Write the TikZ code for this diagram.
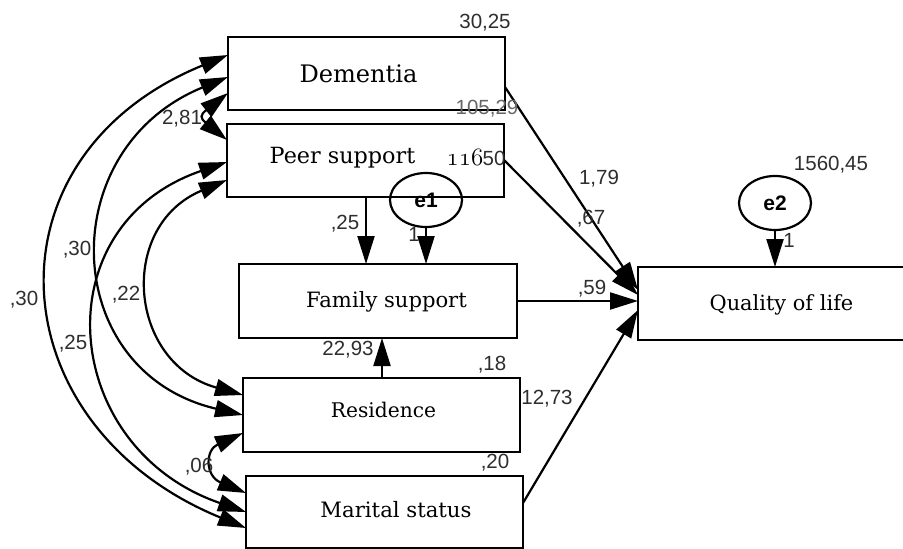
\documentclass[tikz,border=0pt]{standalone}
\usepackage{fontspec}
\newfontfamily\numfont{Liberation Sans}
\newfontfamily\boxfont{DejaVu Serif}
\usetikzlibrary{arrows.meta,shapes.geometric}
\begin{document}
\begin{tikzpicture}[x=1pt,y=-1pt,
  box/.style={draw=black, line width=2.5pt, rectangle, inner sep=0pt, outer sep=0pt},
  lbl/.style={inner sep=0pt, anchor=base, text=black},
  num/.style={inner sep=0pt, anchor=base, text=black!82, font=\numfont\fontsize{20.5}{22}\selectfont},
  arr/.style={line width=2.2pt, -{Triangle[length=28pt,width=17pt]}},
  cov/.style={line width=2.2pt, {Triangle[length=28pt,width=17pt]}-{Triangle[length=28pt,width=17pt]}},
  err/.style={draw, ellipse, line width=2.2pt, minimum width=72pt, minimum height=54pt, inner sep=0pt, outer sep=0pt, font=\numfont\bfseries\fontsize{21}{22}\selectfont}
]
\useasboundingbox (0,0) rectangle (903,549);
\fill[white] (0,0) rectangle (903,549);

% boxes
\node[box, minimum width=277pt, minimum height=73pt] (dem) at (366.5,73.5) {};
\node[box, minimum width=277pt, minimum height=73pt] (peer) at (365.5,160.5) {};
\node[box, minimum width=278pt, minimum height=74pt] (fam) at (378,301) {};
\node[box, minimum width=277pt, minimum height=74pt] (res) at (381.5,415) {};
\node[box, minimum width=277pt, minimum height=72pt] (mar) at (384.5,512) {};
\node[inner sep=0pt, outer sep=0pt, minimum width=265pt, minimum height=73pt] (qol) at (770.5,303.5) {};
\draw[line width=2.5pt] (qol.north east) -- (qol.north west) -- (qol.south west) -- (qol.south east);

% box texts
\node[lbl, font=\boxfont\fontsize{24.1}{27}\selectfont] (tdem) at (358.5,82) {Dementia};
\node[lbl, font=\boxfont\fontsize{22.3}{25}\selectfont] (tpeer) at (342.5,163) {Peer support};
\node[lbl, font=\boxfont\fontsize{21.1}{24}\selectfont] (tfam) at (386.5,307) {Family support};
\node[lbl, font=\boxfont\fontsize{20.2}{23}\selectfont] (tres) at (383.5,417) {Residence};
\node[lbl, font=\boxfont\fontsize{21.2}{24}\selectfont] (tmar) at (396,517) {Marital status};
\node[lbl, font=\boxfont\fontsize{20.9}{24}\selectfont] (tqol) at (781.5,310) {Quality of life};

% error terms
\node[err] (e1) at (426,200) {e1};
\node[err] (e2) at (775,203) {e2};

% straight paths
\draw[arr] (peer.south -| 366,0) -- (fam.north -| 366,0);
\draw[arr] (e1.south) -- (fam.north -| e1.south);
\draw[arr] (res.north -| 382,0) -- (fam.south -| 382,0);
\draw[arr] (e2.south) -- (qol.north -| e2.south);
\draw[arr] (dem.east |- 0,87) -- (qol.west |- 0,290);
\draw[arr] (peer.east |- 0,160) -- (qol.west |- 0,295);
\draw[arr] (fam.east) -- (qol.west |- fam.east);
\draw[arr] (mar.east |- 0,503) -- (qol.west |- 0,310);

% covariances
\draw[cov] (dem.west |- 0,55) .. controls (-21,157) and (-3,426) .. (mar.west |- 0,528);
\draw[cov] (dem.west |- 0,77) .. controls (52,149) and (59,372) .. (res.west |- 0,415);
\draw[cov] (peer.west |- 0,162) .. controls (41,226) and (60,448) .. (mar.west |- 0,512);
\draw[cov] (peer.west |- 0,180) .. controls (117,226) and (128,363) .. (res.west |- 0,395);
\draw[cov] (dem.west |- 0,93) .. controls (200,115) and (200,118) .. (peer.west |- 0,140);
\draw[cov] (res.west |- 0,433) .. controls (205,450) and (205,476) .. (mar.west |- 0,493);

% numbers
\node[num] (n3025) at (485,28.8) {30,25};
\node[num, text=black!60] (n10529) at (487,114.5) {105,29};
\node[lbl, font=\fontsize{24}{26}\selectfont] (n116) at (465,165) {$\mathnormal{116}$};
\node[num] (n50) at (494,165) {50};
\node[num] (n281) at (182,124.3) {2,81};
\node[num] (n25a) at (345,229.3) {,25};
\node[num] (n1a) at (414,241) {1};
\node[num] (n30a) at (77,255.3) {,30};
\node[num] (n30b) at (24,305.3) {,30};
\node[num] (n22) at (126,300.3) {,22};
\node[num] (n25b) at (73,349.3) {,25};
\node[num] (n06) at (199,472.3) {,06};
\node[num] (n2293) at (348,355.3) {22,93};
\node[num] (n18) at (492,370.3) {,18};
\node[num] (n20) at (495,468.3) {,20};
\node[num] (n1273) at (547,404.3) {12,73};
\node[num] (n179) at (599,184.3) {1,79};
\node[num] (n67) at (591,224.3) {,67};
\node[num] (n59) at (592,294.3) {,59};
\node[num] (n156045) at (831,170.3) {1560,45};
\node[num] (n1b) at (789,247) {1};
\end{tikzpicture}
\end{document}
